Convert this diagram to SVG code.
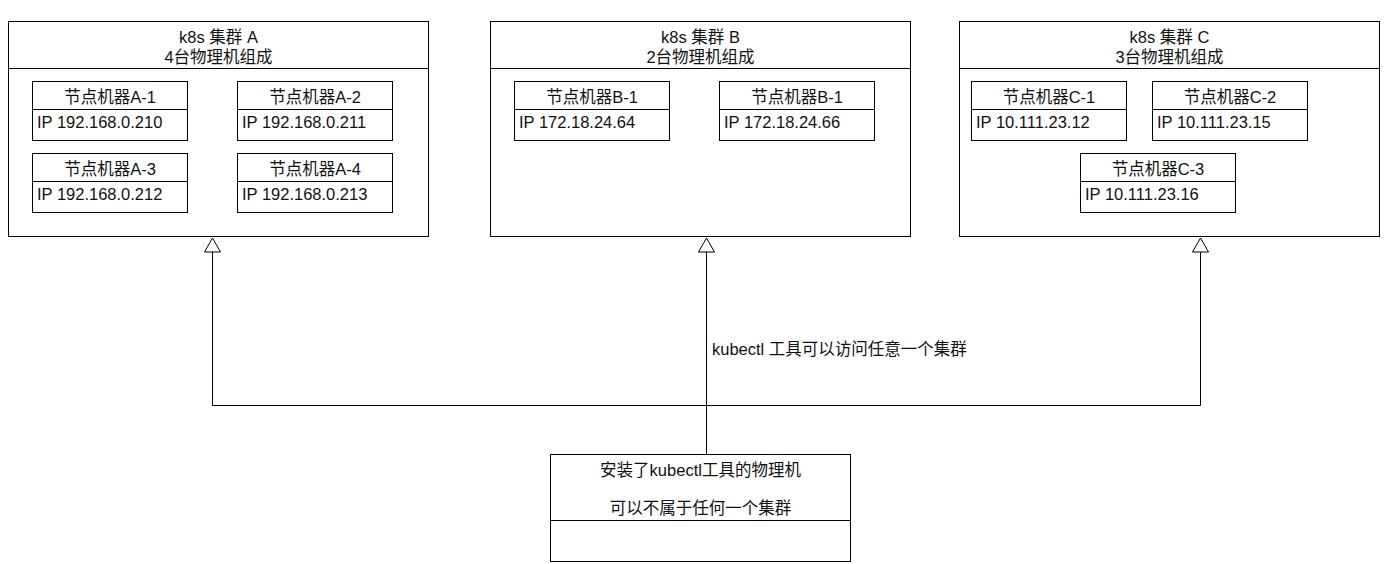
<svg xmlns="http://www.w3.org/2000/svg" width="1386" height="564" viewBox="0 0 1386 564">
<defs>
<style>
.box{fill:#fff;stroke:#000;stroke-width:1}
.ln{fill:none;stroke:#000;stroke-width:1}
text{font-family:"Liberation Sans","Noto Sans CJK SC",sans-serif;font-size:16.5px;fill:#111}
.c{text-anchor:middle}
</style>
<marker id="tri" markerUnits="userSpaceOnUse" markerWidth="18" markerHeight="18" viewBox="-1 -1 18 18" refX="14" refY="8" orient="auto">
<path d="M0,0 L14,8 L0,16 Z" fill="#fff" stroke="#000" stroke-width="1"/>
</marker>
</defs>
<rect width="1386" height="564" fill="#fff"/>

<g id="clusterA">
<rect class="box" x="8.5" y="21.5" width="420" height="215"/>
<line class="ln" x1="8.5" y1="68.5" x2="428.5" y2="68.5"/>
<text class="c" x="218.5" y="43">k8s 集群 A</text>
<text class="c" x="218.5" y="63">4台物理机组成</text>
</g>
<g id="nodeA1">
<rect class="box" x="32.5" y="81.5" width="155" height="59"/>
<line class="ln" x1="32.5" y1="109.5" x2="187.5" y2="109.5"/>
<text class="c" x="110" y="103">节点机器A-1</text>
<text x="37" y="128">IP 192.168.0.210</text>
</g>
<g id="nodeA2">
<rect class="box" x="237.5" y="81.5" width="155" height="59"/>
<line class="ln" x1="237.5" y1="109.5" x2="392.5" y2="109.5"/>
<text class="c" x="315" y="103">节点机器A-2</text>
<text x="242" y="128">IP 192.168.0.211</text>
</g>
<g id="nodeA3">
<rect class="box" x="32.5" y="153.5" width="155" height="59"/>
<line class="ln" x1="32.5" y1="181.5" x2="187.5" y2="181.5"/>
<text class="c" x="110" y="175">节点机器A-3</text>
<text x="37" y="200">IP 192.168.0.212</text>
</g>
<g id="nodeA4">
<rect class="box" x="237.5" y="153.5" width="155" height="59"/>
<line class="ln" x1="237.5" y1="181.5" x2="392.5" y2="181.5"/>
<text class="c" x="315" y="175">节点机器A-4</text>
<text x="242" y="200">IP 192.168.0.213</text>
</g>

<g id="clusterB">
<rect class="box" x="490.5" y="21.5" width="420" height="215"/>
<line class="ln" x1="490.5" y1="68.5" x2="910.5" y2="68.5"/>
<text class="c" x="700.5" y="43">k8s 集群 B</text>
<text class="c" x="700.5" y="63">2台物理机组成</text>
</g>
<g id="nodeB1">
<rect class="box" x="514.5" y="81.5" width="155" height="59"/>
<line class="ln" x1="514.5" y1="109.5" x2="669.5" y2="109.5"/>
<text class="c" x="592" y="103">节点机器B-1</text>
<text x="519" y="128">IP 172.18.24.64</text>
</g>
<g id="nodeB2">
<rect class="box" x="719.5" y="81.5" width="155" height="59"/>
<line class="ln" x1="719.5" y1="109.5" x2="874.5" y2="109.5"/>
<text class="c" x="797" y="103">节点机器B-1</text>
<text x="724" y="128">IP 172.18.24.66</text>
</g>

<g id="clusterC">
<rect class="box" x="959.5" y="21.5" width="420" height="215"/>
<line class="ln" x1="959.5" y1="68.5" x2="1379.5" y2="68.5"/>
<text class="c" x="1169.5" y="43">k8s 集群 C</text>
<text class="c" x="1169.5" y="63">3台物理机组成</text>
</g>
<g id="nodeC1">
<rect class="box" x="971.5" y="81.5" width="155" height="59"/>
<line class="ln" x1="971.5" y1="109.5" x2="1126.5" y2="109.5"/>
<text class="c" x="1049" y="103">节点机器C-1</text>
<text x="976" y="128">IP 10.111.23.12</text>
</g>
<g id="nodeC2">
<rect class="box" x="1152.5" y="81.5" width="155" height="59"/>
<line class="ln" x1="1152.5" y1="109.5" x2="1307.5" y2="109.5"/>
<text class="c" x="1230" y="103">节点机器C-2</text>
<text x="1157" y="128">IP 10.111.23.15</text>
</g>
<g id="nodeC3">
<rect class="box" x="1080.5" y="153.5" width="155" height="59"/>
<line class="ln" x1="1080.5" y1="181.5" x2="1235.5" y2="181.5"/>
<text class="c" x="1158" y="175">节点机器C-3</text>
<text x="1085" y="200">IP 10.111.23.16</text>
</g>

<g id="kubectlHost">
<rect class="box" x="550.5" y="454.5" width="300" height="107"/>
<line class="ln" x1="550.5" y1="520.5" x2="850.5" y2="520.5"/>
<text class="c" x="700.5" y="476">安装了kubectl工具的物理机</text>
<text class="c" x="700.5" y="514">可以不属于任何一个集群</text>
</g>

<g id="connectors">
<path class="ln" d="M706.5,454 V238" marker-end="url(#tri)"/>
<path class="ln" d="M706.5,405.5 H212.5 V238" marker-end="url(#tri)"/>
<path class="ln" d="M706.5,405.5 H1200.5 V238" marker-end="url(#tri)"/>
<text x="712" y="355">kubectl 工具可以访问任意一个集群</text>
</g>
</svg>
